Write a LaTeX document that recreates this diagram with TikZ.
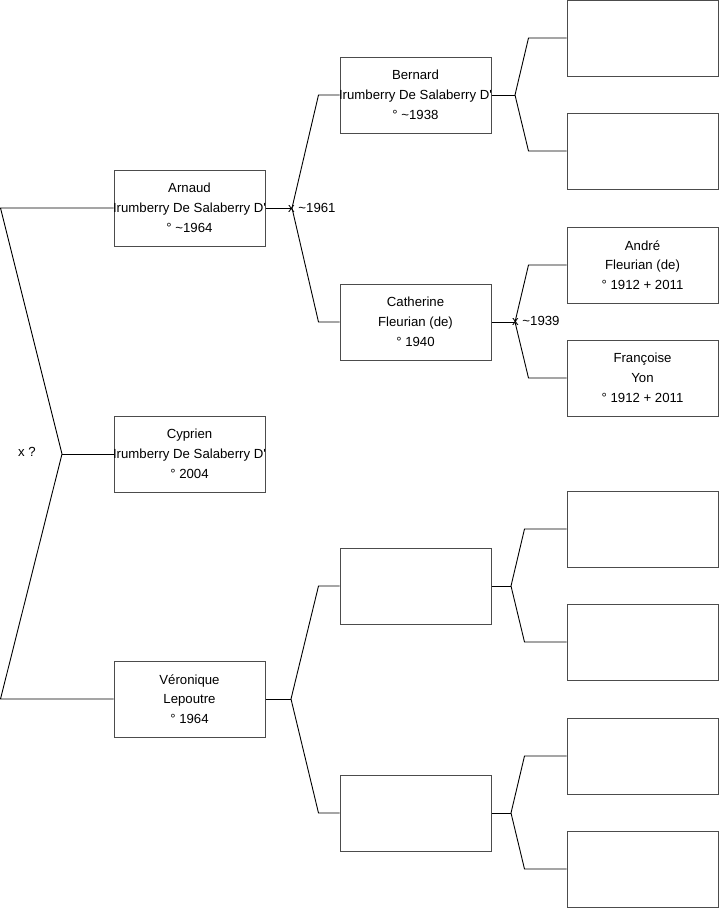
\documentclass[tikz,border=0pt]{standalone}
\usepackage{fontspec}
\setmainfont{Liberation Sans}[Ligatures=TeXOff]
\newcommand{\tl}[3]{\makebox[0pt]{#1}\\\makebox[0pt]{#2}\\\makebox[0pt]{#3}}
\begin{document}
\begin{tikzpicture}[x=1pt,y=-1pt,
  person/.style={draw=black!70,line width=1pt,minimum width=151pt,minimum height=76pt,inner sep=0pt,align=center,
    font=\fontsize{13.2}{19.8}\selectfont},
  link/.style={draw=black,line width=0.9pt},
  lbl/.style={font=\fontsize{13.2}{15}\selectfont,inner sep=0pt}]
\useasboundingbox (0,0) rectangle (719,908);
% column 1
\node[person] (arnaud) at (189.5,208) {\tl{Arnaud}{Irumberry De Salaberry D'}{° \textasciitilde1964}};
\node[person] (cyprien) at (189.5,454) {\tl{Cyprien}{Irumberry De Salaberry D'}{° 2004}};
\node[person] (veronique) at (189.5,699) {\tl{Véronique}{Lepoutre}{° 1964}};
% column 2
\node[person] (bernard) at (415.5,95) {\tl{Bernard}{Irumberry De Salaberry D'}{° \textasciitilde1938}};
\node[person] (catherine) at (415.5,322) {\tl{Catherine}{Fleurian (de)}{° 1940}};
\node[person] (e1) at (415.5,586) {};
\node[person] (e2) at (415.5,813) {};
% column 3
\node[person] (r1) at (642.5,38) {};
\node[person] (r2) at (642.5,151) {};
\node[person] (andre) at (642.5,265) {\tl{André}{Fleurian (de)}{° 1912 + 2011}};
\node[person] (francoise) at (642.5,378) {\tl{Françoise}{Yon}{° 1912 + 2011}};
\node[person] (r5) at (642.5,529) {};
\node[person] (r6) at (642.5,642) {};
\node[person] (r7) at (642.5,756) {};
\node[person] (r8) at (642.5,869) {};
% joints
\coordinate (jL) at (62,454);
\coordinate (jA) at (292,208);
\coordinate (jV) at (291,699);
\coordinate (jB) at (515,95);
\coordinate (jC) at (515,322);
\coordinate (jE1) at (511,586);
\coordinate (jE2) at (511,813);
% left fork
\draw[link] (arnaud.west) -- ([xshift=-113pt]arnaud.west) -- (jL) -- ([xshift=-113pt]veronique.west) -- (veronique.west);
\draw[link] (jL) -- (cyprien.west);
\node[lbl,anchor=east] (xq) at (36,452) {x ?};
% Arnaud's parents
\draw[link] (arnaud.east) -- (jA);
\draw[link] (jA) -- ([xshift=-21pt]bernard.west) -- (bernard.west);
\draw[link] (jA) -- ([xshift=-21pt]catherine.west) -- (catherine.west);
\node[lbl,anchor=west] (m1) at (288,208) {x \textasciitilde1961};
% Veronique's parents
\draw[link] (veronique.east) -- (jV);
\draw[link] (jV) -- ([xshift=-21pt]e1.west) -- (e1.west);
\draw[link] (jV) -- ([xshift=-21pt]e2.west) -- (e2.west);
% Bernard's parents
\draw[link] (bernard.east) -- (jB);
\draw[link] (jB) -- ([xshift=-38pt]r1.west) -- (r1.west);
\draw[link] (jB) -- ([xshift=-38pt]r2.west) -- (r2.west);
% Catherine's parents
\draw[link] (catherine.east) -- (jC);
\draw[link] (jC) -- ([xshift=-38pt]andre.west) -- (andre.west);
\draw[link] (jC) -- ([xshift=-38pt]francoise.west) -- (francoise.west);
\node[lbl,anchor=west] (m2) at (512,321) {x \textasciitilde1939};
% e1 parents
\draw[link] (e1.east) -- (jE1);
\draw[link] (jE1) -- ([xshift=-42pt]r5.west) -- (r5.west);
\draw[link] (jE1) -- ([xshift=-42pt]r6.west) -- (r6.west);
% e2 parents
\draw[link] (e2.east) -- (jE2);
\draw[link] (jE2) -- ([xshift=-42pt]r7.west) -- (r7.west);
\draw[link] (jE2) -- ([xshift=-42pt]r8.west) -- (r8.west);
\end{tikzpicture}
\end{document}
